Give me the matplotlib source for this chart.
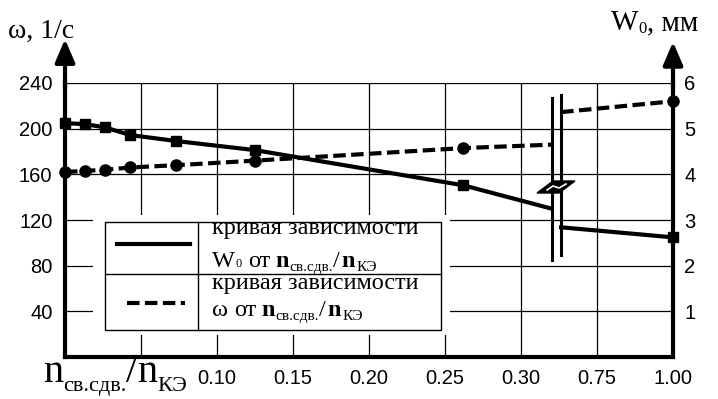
import numpy as np
import matplotlib
matplotlib.use("Agg")
import matplotlib.pyplot as plt
from matplotlib.patches import Rectangle, Polygon
from matplotlib.lines import Line2D
from matplotlib.transforms import offset_copy

plt.rcParams['font.family'] = ['Liberation Sans', 'DejaVu Sans']
SERIF = ['Liberation Serif', 'DejaVu Serif']

# measured points, left part of the broken axis
x_pts = [0.0, 0.013, 0.026, 0.043, 0.073, 0.125, 0.262]
w0_pts = [5.12, 5.10, 5.03, 4.86, 4.73, 4.53, 3.76]      # mm
omega_pts = [162, 163, 164, 166, 168, 172, 183]           # 1/s

# curve ends at both sides of the break and the last point
x_cut = [0.32, 0.632]
w0_cut = [3.25, 2.84]
omega_cut = [186, 214.5]
x_end = 1.0
w0_end = 2.62
omega_end = 224

x_ticks = [0.05, 0.10, 0.15, 0.20, 0.25, 0.30, 0.75, 1.00]
x_ticklabels = ['', '0.10', '0.15', '0.20', '0.25', '0.30', '0.75', '1.00']
omega_ticks = [40, 80, 120, 160, 200, 240]
w0_ticks = [1, 2, 3, 4, 5, 6]

# broken x scale: 0..0.325 linear, then a jump, then 0.625..1.0
XP = [0.0, 0.325, 0.625, 1.0]
FP = [0.0, 6.5, 6.5001, 8.0]


def fwd(x):
    return np.interp(x, XP, FP)


def inv(p):
    return np.interp(p, FP, XP)


fig = plt.figure(figsize=(7.18, 3.99), dpi=100)
renderer = fig.canvas.get_renderer()


def rich_text(x, y, parts, transform):
    # parts: (text, size, weight, dy in px, gap after in px)
    dx = 0
    for s, size, weight, dy, gap in parts:
        t = fig.text(x, y, s, fontsize=size, fontweight=weight, family=SERIF,
                     va='baseline', ha='left', zorder=6,
                     transform=offset_copy(transform, fig=fig, x=dx, y=dy,
                                           units='dots'))
        dx += t.get_window_extent(renderer).width + gap


ax = fig.add_axes([65 / 718, 42 / 399, 608 / 718, 274 / 399])
ax.set_xscale('function', functions=(fwd, inv))
ax.set_xlim(0, 1)
ax.set_ylim(0, 240)

ax2 = ax.twinx()
ax2.set_ylim(0, 6)

ax.set_xticks(x_ticks)
ax.set_xticklabels(x_ticklabels)
ax.set_yticks(omega_ticks)
ax2.set_yticks(w0_ticks)
ax.grid(True, color='black', lw=0.9)
ax.tick_params(length=0, labelsize=14.5, pad=9)
ax2.tick_params(length=0, labelsize=14.5, pad=8)

for s in ['left', 'right', 'bottom']:
    ax.spines[s].set_linewidth(3)
ax.spines['top'].set_visible(False)
for s in ax2.spines.values():
    s.set_visible(False)
ax.set_zorder(1)
ax2.set_zorder(2)
ax.patch.set_visible(False)

# omega (dashed, circles) on the left scale
dash = dict(color='black', lw=3, ls=(0, (3, 1.3)))
ax.plot(x_pts + [x_cut[0]], omega_pts + [omega_cut[0]], **dash)
ax.plot([x_cut[1], x_end], [omega_cut[1], omega_end], **dash)
ax.plot(x_pts + [x_end], omega_pts + [omega_end], 'o', color='black', ms=8,
        clip_on=False, zorder=5)

# W0 (solid, squares) on the right scale
ax2.plot(x_pts + [x_cut[0]], w0_pts + [w0_cut[0]], color='black', lw=3)
ax2.plot([x_cut[1], x_end], [w0_cut[1], w0_end], color='black', lw=3)
ax2.plot(x_pts + [x_end], w0_pts + [w0_end], 's', color='black', ms=7,
         clip_on=False, zorder=5)

# axis arrows
arr = dict(arrowstyle='-|>,head_length=0.7,head_width=0.3', lw=3,
           color='black', mutation_scale=20, shrinkA=0, shrinkB=0)
ax.annotate('', xy=(0, 1.16), xytext=(0, 0.98), xycoords='axes fraction',
            arrowprops=arr)
ax.annotate('', xy=(1, 1.15), xytext=(1, 0.98), xycoords='axes fraction',
            arrowprops=arr)

# break marks
tr = ax2.transAxes
zx = lambda px: (px - 65) / 608
zy = lambda py: (357 - py) / 274
ax2.add_line(Line2D([zx(552), zx(552)], [zy(260), zy(98)], transform=tr,
                    color='black', lw=2.2))
ax2.add_line(Line2D([zx(561), zx(561)], [zy(255), zy(95)], transform=tr,
                    color='black', lw=2.2))
ax2.add_patch(Polygon([(zx(537), zy(193)), (zx(553), zy(181)),
                       (zx(575), zy(181)), (zx(559), zy(193))],
                      closed=True, transform=tr, color='black', zorder=6))
ax2.add_line(Line2D([zx(547), zx(553), zx(559), zx(566)],
                    [zy(190), zy(186), zy(188), zy(184)], transform=tr,
                    color='white', lw=1.2, zorder=7))

# legend table
ax2.add_patch(Rectangle((zx(93), zy(335)), zx(450) - zx(93),
                        zy(215) - zy(335), transform=tr,
                        facecolor='white', edgecolor='none', zorder=3))
ax2.add_patch(Rectangle((zx(105), zy(330)), zx(441) - zx(105),
                        zy(222) - zy(330), transform=tr,
                        facecolor='white', edgecolor='black', lw=1.0,
                        zorder=4))
ax2.add_line(Line2D([zx(198), zx(198)], [zy(330), zy(222)], transform=tr,
                    color='black', lw=1.0, zorder=4))
ax2.add_line(Line2D([zx(105), zx(441)], [zy(274), zy(274)], transform=tr,
                    color='black', lw=1.0, zorder=4))
ax2.add_line(Line2D([zx(117), zx(190)], [zy(244), zy(244)], transform=tr,
                    color='black', lw=3, zorder=5))
ax2.add_line(Line2D([zx(127), zx(185)], [zy(303), zy(303)], transform=tr,
                    zorder=5, **dash))

LS = 17.5
sub_n = [('n', LS, 'bold', 0, 1), ('св.сдв.', 11, 'normal', -4, 0),
         ('/', LS, 'normal', 0, 1), ('n', LS, 'bold', 0, 2),
         ('КЭ', 11, 'normal', -4, 0)]
fig.text(zx(212), zy(234), 'кривая зависимости', transform=tr, family=SERIF,
         fontsize=LS, va='baseline', zorder=6)
rich_text(zx(212), zy(267), [('W', LS, 'normal', 0, 1),
                             ('0', 9, 'normal', 0, 6),
                             ('от', LS, 'normal', 0, 5)] + sub_n, tr)
fig.text(zx(212), zy(289), 'кривая зависимости', transform=tr, family=SERIF,
         fontsize=LS, va='baseline', zorder=6)
rich_text(zx(212), zy(316), [('ω', LS, 'normal', 0, 6),
                             ('от', LS, 'normal', 0, 5)] + sub_n, tr)

# axis titles
ftr = fig.transFigure
fig.text(8 / 718, (399 - 38) / 399, 'ω, 1/c', family=SERIF, fontsize=20,
         va='baseline')
rich_text(611 / 718, (399 - 30) / 399,
          [('W', 21, 'normal', 0, 0), ('0', 12, 'normal', -3, 0),
           (', мм', 21, 'normal', 0, 0)], ftr)
rich_text(43 / 718, (399 - 382) / 399,
          [('n', 29, 'normal', 0, 0), ('св.сдв.', 16, 'normal', -9, 0),
           ('/', 29, 'normal', 0, 0), ('n', 29, 'normal', 0, 0),
           ('КЭ', 16, 'normal', -9, 0)], ftr)

fig.savefig('out.png', dpi=100)
